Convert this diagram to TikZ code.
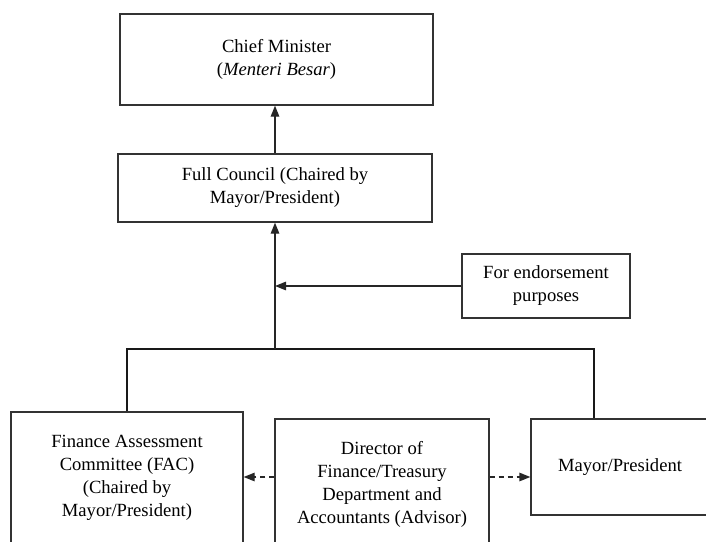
\documentclass[tikz,border=0pt]{standalone}
\usepackage{fontspec}
\setmainfont{Liberation Serif}
\usepackage{tikz}
\usetikzlibrary{arrows.meta}
\tikzset{
	orgbox/.style={draw=black!80, line width=1.3pt, align=center, inner sep=0pt,
		font=\fontsize{18.6}{23}\selectfont},
	arrow/.style={-{Triangle[length=11pt,width=8.5pt]}, line width=1.3pt, draw=black!85},
	dashedarrow/.style={arrow, dash pattern=on 5pt off 4pt},
	busline/.style={line width=2.6pt, draw=black!90}
}

\begin{document}
\begin{tikzpicture}[x=1pt, y=-1pt]
	\useasboundingbox (0,0) rectangle (706,541);
	\clip (0,0) rectangle (706,541);
	
	%% -- Upper chain
	\node[orgbox, minimum width=313pt, minimum height=91pt] (cm) at (276.5,59.5)
	{Chief Minister\\(\textit{Menteri Besar})};
	
	\node[orgbox, minimum width=314pt, minimum height=68pt] (fc) at (275,188)
	{Full Council (Chaired by\\Mayor/President)};
	
	\node[orgbox, minimum width=168pt, minimum height=64pt] (endorse) at (546,286)
	{For endorsement\\purposes};
	
	\draw[arrow] (fc.north) -- (fc.north |- cm.south);
	\draw[arrow] (endorse.west) -- (endorse.west -| fc.south);
	
	%% -- Bottom row (cut off by the page edge)
	\node[orgbox, minimum width=232pt, minimum height=132pt] (fac) at (127,478)
	{Finance Assessment\\Committee (FAC)\\(Chaired by\\Mayor/President)};
	
	\node[orgbox, minimum width=214pt, minimum height=130pt] (dir) at (382,484)
	{Director of\\Finance/Treasury\\Department and\\Accountants (Advisor)};
	
	\node[orgbox, minimum width=178pt, minimum height=96pt] (mayor) at (620,467)
	{Mayor/President};
	
	%% -- Bus joining the bottom row to the council
	\coordinate (busM) at (275,349);
	\coordinate (busR) at (594,349);
	\draw[busline] (fac.north) |- (busR) -- (busR |- mayor.north);
	\draw[arrow] (busM) -- (fc.south);
	
	%% -- Advisory links
	\coordinate (advice) at ([yshift=7pt]dir.west);
	\draw[dashedarrow] (advice) -- (advice -| fac.east);
	\draw[dashedarrow] (advice -| dir.east) -- (advice -| mayor.west);
	
\end{tikzpicture}
\end{document}
